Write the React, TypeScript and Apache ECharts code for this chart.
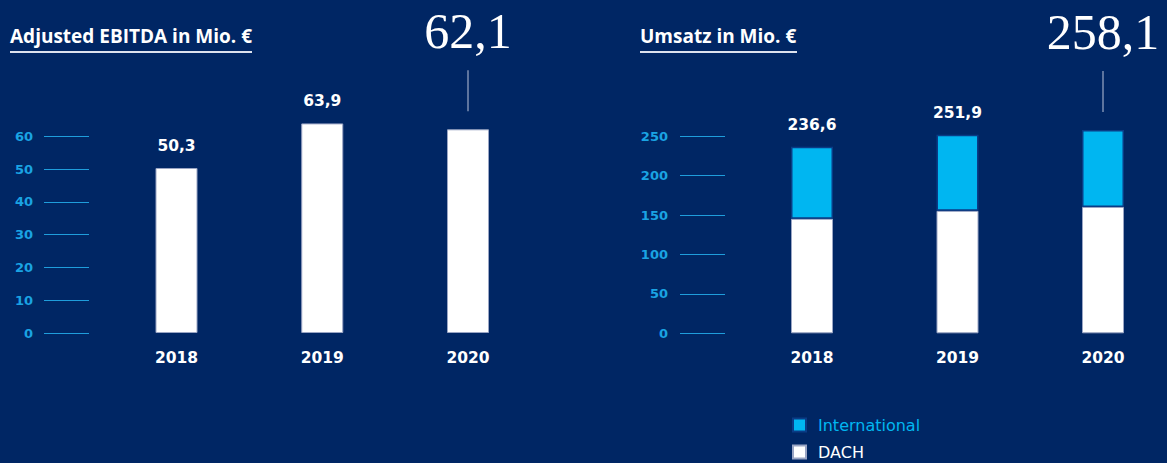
import React, { useEffect, useRef } from "react";
import * as echarts from "echarts";

const years = ["2018", "2019", "2020"];
const ebitda = [50.3, 63.9, 62.1];
const dach = [145.5, 155.5, 160.3];
const international = [91.1, 96.4, 97.8];
const umsatzTotal = [236.6, 251.9, 258.1];
const ebitdaTicks = [0, 10, 20, 30, 40, 50, 60];
const umsatzTicks = [0, 50, 100, 150, 200, 250];
const ebitdaAxis = { min: 0, max: 70, interval: 10 };
const umsatzAxis = { min: 0, max: 300, interval: 50 };
const titles = ["Adjusted EBITDA in Mio. €", "Umsatz in Mio. €"];

const BG = "#002664";
const CYAN = "#00b6f1";
const TICK = "#1f9ddb";
const SANS = "'Open Sans', 'Noto Sans', sans-serif";
const WIDE = "'DejaVu Sans', sans-serif";

const fmt = (v: number) => v.toFixed(1).replace(".", ",");

const bigLabel = (v: number) => ({
  show: true,
  position: "top",
  distance: 18,
  formatter: `{num|${fmt(v)}}\n{line| }`,
  rich: {
    num: {
      fontFamily: "'Liberation Serif', serif",
      fontWeight: "normal",
      fontSize: 50,
      lineHeight: 78,
      color: "#ffffff",
    },
    line: { width: 1, height: 41, lineHeight: 41, backgroundColor: "#b9c2d8", fontSize: 1 },
  },
});

const smallLabel = {
  show: true,
  position: "top",
  distance: 14,
  color: "#ffffff",
  fontFamily: WIDE,
  fontWeight: "bold",
  fontSize: 15.5,
};

export default function App() {
  const ref = useRef<HTMLDivElement>(null);
  useEffect(() => {
    if (!ref.current) return;
    const chart = echarts.init(ref.current, null, { renderer: "svg" });
    const xAxisBase = {
      type: "category",
      data: years,
      boundaryGap: false,
      axisLine: { show: false },
      axisTick: { show: false },
      axisLabel: { color: "#ffffff", fontWeight: "bold", fontFamily: WIDE, fontSize: 15.5, margin: 17 },
    };
    const yAxisBase = {
      type: "value",
      axisLine: { show: false },
      splitLine: { show: false },
    };
    const tickStyle = (vals: number[]) => ({
      show: true,
      length: 45,
      customValues: vals,
      lineStyle: { color: TICK, width: 1 },
    });
    const labelStyle = (vals: number[], margin: number) => ({
      color: "#1aa3e3",
      fontWeight: "bold",
      fontFamily: WIDE,
      fontSize: 13,
      margin,
      customValues: vals,
    });
    chart.setOption({
      animation: false,
      backgroundColor: BG,
      grid: [
        { left: 176.5, width: 291.5, top: 103.4, height: 229.6 },
        { left: 812, width: 291, top: 96.9, height: 236.4 },
      ],
      xAxis: [
        { ...xAxisBase, gridIndex: 0 },
        { ...xAxisBase, gridIndex: 1 },
      ],
      yAxis: [
        {
          ...yAxisBase,
          gridIndex: 0,
          ...ebitdaAxis,
          offset: 87.5,
          axisTick: tickStyle(ebitdaTicks),
          axisLabel: labelStyle(ebitdaTicks, 56),
        },
        {
          ...yAxisBase,
          gridIndex: 1,
          ...umsatzAxis,
          offset: 87,
          axisTick: tickStyle(umsatzTicks),
          axisLabel: labelStyle(umsatzTicks, 57),
        },
      ],
      legend: [
        {
          left: 792,
          top: 417,
          padding: 0,
          itemWidth: 13,
          itemHeight: 13,
          icon: "rect",
          textStyle: { fontFamily: WIDE, fontSize: 16, color: CYAN, padding: [0, 0, 0, 7] },
          data: ["International"],
        },
        {
          left: 792,
          top: 444,
          padding: 0,
          itemWidth: 13,
          itemHeight: 13,
          icon: "rect",
          textStyle: { fontFamily: WIDE, fontSize: 16, color: "#ffffff", padding: [0, 0, 0, 7] },
          data: ["DACH"],
        },
      ],
      series: [
        {
          name: "Adjusted EBITDA",
          type: "bar",
          clip: false,
          xAxisIndex: 0,
          yAxisIndex: 0,
          barWidth: 42,
          itemStyle: { color: "#ffffff", borderColor: "#9aa5c4", borderWidth: 1 },
          label: { ...smallLabel, formatter: (p: any) => fmt(p.value) },
          data: ebitda.map((v, i) => (i === ebitda.length - 1 ? { value: v, label: bigLabel(v) } : v)),
        },
        {
          name: "DACH",
          type: "bar",
          clip: false,
          stack: "umsatz",
          xAxisIndex: 1,
          yAxisIndex: 1,
          barWidth: 42,
          itemStyle: { color: "#ffffff", borderColor: "#9aa5c4", borderWidth: 1 },
          data: dach,
        },
        {
          name: "International",
          type: "bar",
          clip: false,
          stack: "umsatz",
          xAxisIndex: 1,
          yAxisIndex: 1,
          barWidth: 42,
          itemStyle: { color: CYAN, borderColor: "#0a3c86", borderWidth: 1.5 },
          label: { ...smallLabel, formatter: (p: any) => fmt(umsatzTotal[p.dataIndex]) },
          data: international.map((v, i) =>
            i === international.length - 1 ? { value: v, label: bigLabel(umsatzTotal[i]) } : v
          ),
        },
      ],
      graphic: [
        {
          type: "text",
          left: 10,
          top: 26,
          style: { text: titles[0], fill: "#ffffff", font: `bold 19px ${SANS}` },
        },
        { type: "line", shape: { x1: 10, y1: 52, x2: 252, y2: 52 }, style: { stroke: "#dde2ee", lineWidth: 2 } },
        {
          type: "text",
          left: 640,
          top: 26,
          style: { text: titles[1], fill: "#ffffff", font: `bold 19px ${SANS}` },
        },
        { type: "line", shape: { x1: 640, y1: 52, x2: 797, y2: 52 }, style: { stroke: "#dde2ee", lineWidth: 2 } },
      ],
    });
    return () => chart.dispose();
  }, []);
  return <div ref={ref} style={{ position: "fixed", left: 0, top: 0, width: 1167, height: 463 }} />;
}
